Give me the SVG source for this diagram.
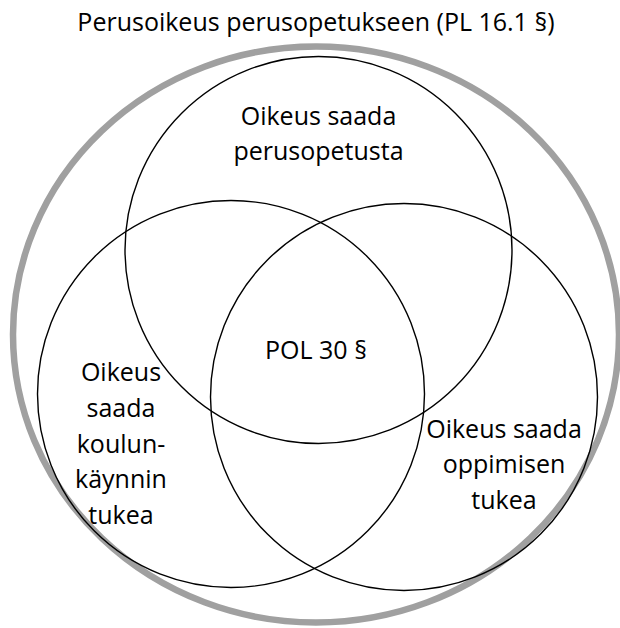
<svg xmlns="http://www.w3.org/2000/svg" width="620" height="628" viewBox="0 0 620 628">
<style>
  text { font-family: "Open Sans", "Liberation Sans", sans-serif; font-size: 25px; fill: #000; text-anchor: middle; }
  .set { fill: none; stroke: #000; stroke-width: 1.4; }
  .outer { fill: none; stroke: #a0a0a0; stroke-width: 6.5; }
</style>
<rect width="620" height="628" fill="#fff"/>
<g id="perusoikeus">
  <ellipse class="outer" cx="316" cy="334.5" rx="303" ry="288"/>
  <text x="316" y="31" font-size="25.5">Perusoikeus perusopetukseen (PL 16.1 §)</text>
</g>
<g id="perusopetus">
  <circle class="set" cx="318.5" cy="250" r="193.5"/>
  <text x="318.5" y="125">Oikeus saada</text>
  <text x="318.5" y="160">perusopetusta</text>
</g>
<g id="koulunkaynnin-tuki">
  <circle class="set" cx="231" cy="394" r="193.5"/>
  <text x="121" y="381">Oikeus</text>
  <text x="121" y="417">saada</text>
  <text x="121" y="453">koulun-</text>
  <text x="121" y="488">käynnin</text>
  <text x="121" y="524">tukea</text>
</g>
<g id="oppimisen-tuki">
  <circle class="set" cx="404" cy="397" r="193.5"/>
  <text x="504" y="438">Oikeus saada</text>
  <text x="504" y="473">oppimisen</text>
  <text x="504" y="509">tukea</text>
</g>
<g id="pol30">
  <text x="316" y="359" font-size="24">POL 30 §</text>
</g>
</svg>
